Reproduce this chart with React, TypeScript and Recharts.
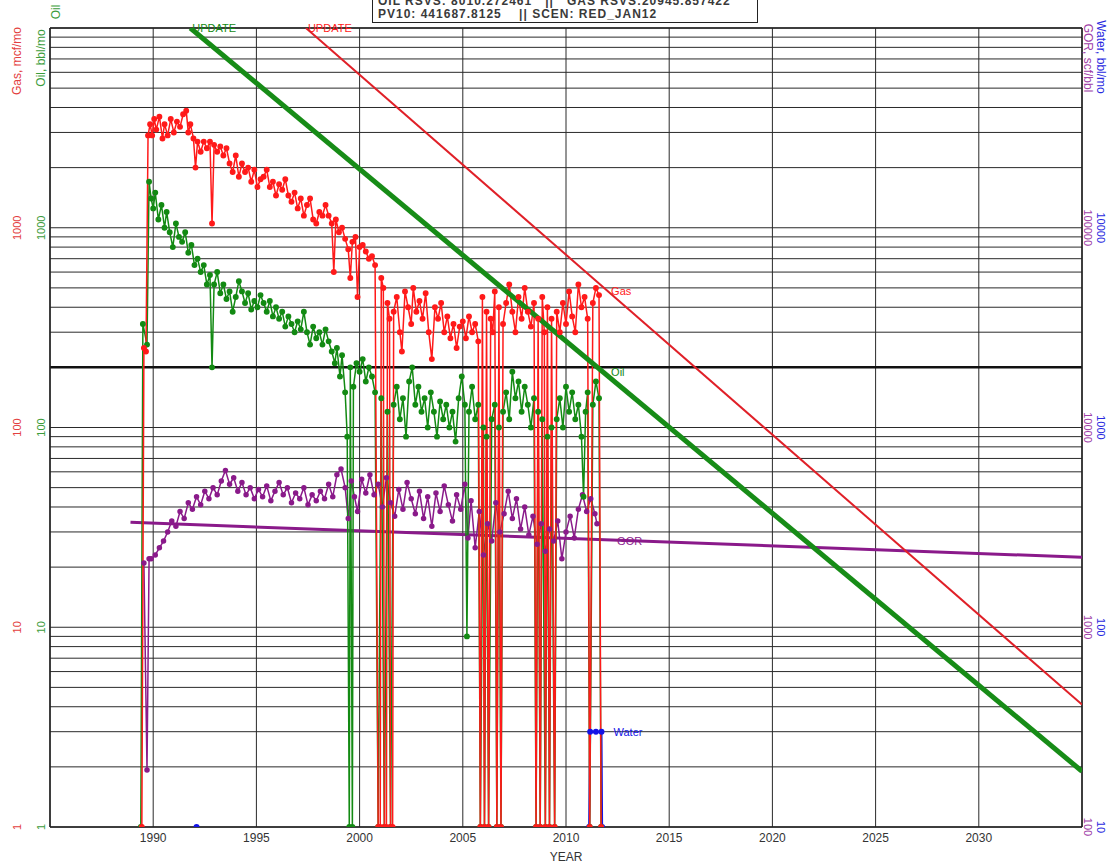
import React from 'react';
import {
    LineChart,
    Line,
    XAxis,
    YAxis,
    CartesianGrid,
    ReferenceLine,
    ReferenceDot
} from 'recharts';

type Pt = [number, number | null];

// axis ticks
const yearTicks = [1985, 1990, 1995, 2000, 2005, 2010, 2015, 2020, 2025, 2030, 2035];
const yearLabels = [1990, 1995, 2000, 2005, 2010, 2015, 2020, 2025, 2030];
const rateTicks = [
    1, 2, 3, 4, 5, 6, 7, 8, 9,
    10, 20, 30, 40, 50, 60, 70, 80, 90,
    100, 200, 300, 400, 500, 600, 700, 800, 900,
    1000, 2000, 3000, 4000, 5000, 6000, 7000, 8000, 9000,
    10000
];
const rateLabels = [1, 10, 100, 1000];
const gorTicks = [100, 1000, 10000, 100000];
const waterLabels = ['10', '100', '1000', '10000'];

// monthly history (0 months drawn at the axis floor)
const gasHistory: Pt[] = [
    [1989.45, 1], [1989.55, 250], [1989.65, 240], [1989.75, 2900], [1989.85, 3300], [1989.95, 2900],
    [1990.05, 3500], [1990.15, 3100], [1990.3, 3600], [1990.45, 2800], [1990.55, 3300], [1990.7, 2900],
    [1990.85, 3500], [1991.0, 3000], [1991.15, 3400], [1991.3, 3200], [1991.45, 3700], [1991.6, 3850],
    [1991.7, 3000], [1991.8, 3300], [1991.95, 2800], [1992.05, 2000], [1992.15, 2700], [1992.3, 2400],
    [1992.45, 2700], [1992.6, 2500], [1992.75, 2700], [1992.85, 1050], [1992.95, 2600], [1993.1, 2400],
    [1993.25, 2550], [1993.4, 2300], [1993.55, 2500], [1993.7, 2100], [1993.85, 1900], [1994.0, 2300],
    [1994.15, 1800], [1994.3, 2100], [1994.45, 1900], [1994.6, 2000], [1994.75, 1700], [1994.9, 1950],
    [1995.05, 1600], [1995.2, 1750], [1995.35, 1800], [1995.5, 1950], [1995.65, 1600], [1995.8, 1700],
    [1995.95, 1450], [1996.1, 1650], [1996.25, 1550], [1996.4, 1750], [1996.55, 1450], [1996.7, 1350],
    [1996.85, 1500], [1997.0, 1250], [1997.15, 1400], [1997.3, 1150], [1997.45, 1300], [1997.6, 1400],
    [1997.75, 1100], [1997.9, 1050], [1998.05, 1200], [1998.2, 1150], [1998.35, 1300], [1998.5, 1150],
    [1998.65, 1050], [1998.75, 600], [1998.85, 1100], [1999.0, 950], [1999.15, 1000], [1999.3, 880],
    [1999.45, 780], [1999.55, 560], [1999.65, 850], [1999.8, 900], [1999.9, 450], [2000.0, 800],
    [2000.15, 820], [2000.3, 760], [2000.45, 700], [2000.6, 720], [2000.75, 650], [2000.9, 1],
    [2001.0, 1], [2001.05, 560], [2001.15, 500], [2001.2, 1], [2001.3, 1], [2001.35, 420],
    [2001.45, 350], [2001.5, 1], [2001.6, 1], [2001.65, 380], [2001.8, 450], [2001.95, 300],
    [2002.05, 240], [2002.2, 480], [2002.35, 400], [2002.5, 330], [2002.6, 500], [2002.75, 380],
    [2002.9, 430], [2003.05, 350], [2003.2, 470], [2003.35, 300], [2003.5, 220], [2003.65, 400],
    [2003.8, 350], [2003.95, 420], [2004.1, 300], [2004.25, 360], [2004.4, 280], [2004.55, 330],
    [2004.7, 250], [2004.85, 320], [2005.0, 340], [2005.15, 280], [2005.3, 360], [2005.45, 300],
    [2005.6, 330], [2005.75, 270], [2005.85, 1], [2005.95, 450], [2006.05, 1], [2006.15, 380],
    [2006.25, 1], [2006.35, 350], [2006.45, 300], [2006.55, 480], [2006.65, 1], [2006.75, 400],
    [2006.85, 1], [2006.95, 330], [2007.1, 420], [2007.25, 520], [2007.4, 380], [2007.55, 300],
    [2007.7, 450], [2007.85, 350], [2008.0, 500], [2008.15, 380], [2008.3, 320], [2008.45, 420],
    [2008.55, 1], [2008.65, 350], [2008.75, 1], [2008.85, 450], [2008.95, 300], [2009.0, 1],
    [2009.1, 400], [2009.2, 1], [2009.3, 350], [2009.45, 1], [2009.55, 380], [2009.7, 300],
    [2009.85, 420], [2010.0, 330], [2010.15, 480], [2010.3, 360], [2010.45, 300], [2010.6, 520],
    [2010.75, 400], [2010.9, 450], [2011.05, 350], [2011.15, 1], [2011.3, 420], [2011.45, 500],
    [2011.6, 460], [2011.7, 1]
];

const oilHistory: Pt[] = [
    [1989.4, 1], [1989.5, 330], [1989.7, 260], [1989.8, 1700], [1989.9, 1400], [1990.0, 1250],
    [1990.1, 1500], [1990.25, 1100], [1990.4, 1300], [1990.55, 1000], [1990.65, 1200], [1990.8, 950],
    [1990.95, 800], [1991.1, 1050], [1991.25, 900], [1991.4, 850], [1991.55, 950], [1991.7, 750],
    [1991.85, 820], [1992.0, 650], [1992.15, 700], [1992.3, 600], [1992.45, 650], [1992.6, 520],
    [1992.75, 580], [1992.85, 200], [1992.95, 520], [1993.1, 600], [1993.25, 470], [1993.4, 520],
    [1993.55, 440], [1993.7, 480], [1993.85, 380], [1994.0, 450], [1994.15, 540], [1994.3, 480],
    [1994.45, 420], [1994.6, 470], [1994.75, 390], [1994.9, 430], [1995.05, 400], [1995.2, 460],
    [1995.35, 420], [1995.5, 380], [1995.65, 430], [1995.8, 360], [1995.95, 400], [1996.1, 350],
    [1996.25, 380], [1996.4, 320], [1996.55, 360], [1996.7, 330], [1996.85, 300], [1997.0, 340],
    [1997.15, 310], [1997.3, 380], [1997.45, 300], [1997.6, 260], [1997.75, 320], [1997.9, 280],
    [1998.05, 300], [1998.2, 260], [1998.35, 310], [1998.5, 270], [1998.65, 240], [1998.8, 210],
    [1998.9, 250], [1999.05, 180], [1999.15, 230], [1999.3, 150], [1999.4, 90], [1999.5, 1],
    [1999.55, 200], [1999.65, 1], [1999.7, 160], [1999.85, 210], [2000.0, 190], [2000.15, 220],
    [2000.3, 170], [2000.45, 200], [2000.6, 180], [2000.75, 150], [2000.9, 1], [2001.05, 140],
    [2001.2, 1], [2001.35, 120], [2001.5, 1], [2001.65, 130], [2001.8, 160], [2001.95, 110],
    [2002.1, 140], [2002.25, 90], [2002.4, 170], [2002.55, 200], [2002.7, 130], [2002.85, 160],
    [2003.0, 120], [2003.15, 140], [2003.3, 100], [2003.45, 150], [2003.6, 120], [2003.75, 90],
    [2003.9, 135], [2004.05, 110], [2004.2, 130], [2004.35, 100], [2004.5, 120], [2004.65, 85],
    [2004.8, 140], [2004.95, 180], [2005.1, 130], [2005.2, 9], [2005.3, 120], [2005.45, 160],
    [2005.6, 110], [2005.75, 130], [2005.85, 1], [2006.0, 100], [2006.05, 1], [2006.15, 90],
    [2006.25, 1], [2006.4, 110], [2006.55, 130], [2006.65, 1], [2006.75, 100], [2006.85, 1],
    [2006.95, 120], [2007.1, 150], [2007.25, 110], [2007.4, 190], [2007.55, 140], [2007.7, 170],
    [2007.85, 120], [2008.0, 160], [2008.15, 130], [2008.3, 100], [2008.45, 140], [2008.55, 1],
    [2008.65, 120], [2008.75, 1], [2008.85, 110], [2009.0, 1], [2009.1, 90], [2009.2, 1],
    [2009.3, 100], [2009.45, 1], [2009.55, 110], [2009.7, 140], [2009.85, 100], [2010.0, 160],
    [2010.15, 120], [2010.3, 150], [2010.45, 110], [2010.6, 130], [2010.75, 90], [2010.85, 45],
    [2010.95, 120], [2011.05, 150], [2011.15, 1], [2011.3, 130], [2011.45, 170], [2011.6, 140],
    [2011.7, 1]
];

const gorHistory: Pt[] = [
    [1989.55, 2100], [1989.7, 193], [1989.8, 2200], [1989.9, 2200], [1990.1, 2300], [1990.3, 2500],
    [1990.5, 2700], [1990.7, 3000], [1990.9, 3400], [1991.1, 3200], [1991.3, 3800], [1991.5, 3500],
    [1991.7, 4200], [1991.9, 3900], [1992.1, 4500], [1992.3, 4100], [1992.5, 4800], [1992.7, 4400],
    [1992.9, 5000], [1993.1, 4600], [1993.3, 5400], [1993.5, 6100], [1993.7, 5200], [1993.9, 5600],
    [1994.1, 4800], [1994.3, 5300], [1994.5, 4600], [1994.7, 5000], [1994.9, 4400], [1995.1, 4900],
    [1995.3, 4500], [1995.5, 5100], [1995.7, 4300], [1995.9, 4800], [1996.1, 5300], [1996.3, 4600],
    [1996.5, 5000], [1996.7, 4200], [1996.9, 4700], [1997.1, 4400], [1997.3, 5000], [1997.5, 4100],
    [1997.7, 4600], [1997.9, 4300], [1998.1, 4800], [1998.3, 4400], [1998.5, 5200], [1998.7, 4500],
    [1998.9, 5800], [1999.1, 6200], [1999.3, 5000], [1999.45, 3500], [1999.6, 5400], [1999.75, 4500],
    [1999.9, 3800], [2000.1, 5500], [2000.3, 4700], [2000.5, 5800], [2000.7, 4600], [2000.9, 5200],
    [2001.1, 4000], [2001.3, 5600], [2001.5, 4200], [2001.7, 3600], [2001.9, 4900], [2002.1, 3900],
    [2002.3, 5300], [2002.5, 4400], [2002.7, 3700], [2002.9, 4800], [2003.1, 3500], [2003.3, 4500],
    [2003.5, 3200], [2003.7, 4700], [2003.9, 3800], [2004.1, 5100], [2004.3, 4100], [2004.5, 3400],
    [2004.7, 4600], [2004.9, 3900], [2005.1, 5200], [2005.25, 2800], [2005.4, 4300], [2005.6, 2500],
    [2005.8, 3800], [2006.0, 2300], [2006.2, 3300], [2006.4, 2700], [2006.6, 4200], [2006.8, 3000],
    [2007.0, 3700], [2007.2, 4800], [2007.4, 3500], [2007.6, 4400], [2007.8, 3100], [2008.0, 4000],
    [2008.2, 2900], [2008.4, 3600], [2008.6, 2600], [2008.8, 3300], [2009.0, 2400], [2009.2, 3100],
    [2009.4, 2700], [2009.6, 3400], [2009.8, 2200], [2010.0, 3000], [2010.2, 3600], [2010.4, 2800],
    [2010.6, 3900], [2010.8, 4600], [2011.0, 3800], [2011.2, 4400], [2011.4, 3700], [2011.5, 3300]
];

const waterHistory: Pt[] = [
    [1992.1, 10], [2000.0, null], [2011.12, 10], [2011.17, 30], [2011.45, 30], [2011.72, 30], [2011.75, 10]
];

// UPDATE forecasts
const oilForecast: Pt[] = [[1991.8, 10000], [2035, 1.9]];
const gasForecast: Pt[] = [[1997.4, 10000], [2035, 4.1]];
const gorForecast: Pt[] = [[1988.9, 3350], [2035, 2240]];

const rows = (pts: Pt[]) => pts.map(([t, v]) => ({ t, v }));

const RED = '#ff1a1a';
const GREEN = '#138a13';
const PURPLE = '#8a1a8a';
const BLUE = '#1414e6';

const LeftTick = (props: any) => {
    const { y, payload } = props;
    if (!rateLabels.includes(payload.value)) return <g />;
    return (
        <g fontSize={11}>
            <text x={17} y={y} transform={`rotate(-90 17 ${y})`} textAnchor="middle" dominantBaseline="central" fill="#e34040">{payload.value}</text>
            <text x={41} y={y} transform={`rotate(-90 41 ${y})`} textAnchor="middle" dominantBaseline="central" fill="#3c9c3c">{payload.value}</text>
        </g>
    );
};

const RightTick = (props: any) => {
    const { y, payload } = props;
    const i = gorTicks.indexOf(payload.value);
    if (i < 0) return <g />;
    return (
        <g fontSize={11}>
            <text x={1088} y={y} transform={`rotate(90 1088 ${y})`} textAnchor="middle" dominantBaseline="central" fill="#a040a8">{payload.value}</text>
            <text x={1101} y={y} transform={`rotate(90 1101 ${y})`} textAnchor="middle" dominantBaseline="central" fill="#2a2ae0">{waterLabels[i]}</text>
        </g>
    );
};

const YearTick = (props: any) => {
    const { x, payload } = props;
    if (!yearLabels.includes(payload.value)) return <g />;
    return (
        <text x={x} y={842} textAnchor="middle" fontSize={12} fill="#333">{payload.value}</text>
    );
};

const labelStyle = (value: string, fill: string, offset: number) => ({
    value, fill, offset, position: 'right' as const, fontSize: 11
});

const App: React.FC = () => {
    return (
        <div style={{
            position: 'absolute',
            left: 0,
            top: 0,
            width: 1110,
            height: 865,
            background: 'white',
            overflow: 'hidden',
            fontFamily: '"Liberation Sans", Arial, sans-serif'
        }}>
            <LineChart width={1110} height={865} margin={{ top: 28, right: 0, bottom: 0, left: 0 }}>
                <CartesianGrid yAxisId="left" stroke="#2a2a2a" strokeWidth={1} />
                <XAxis
                    dataKey="t"
                    type="number"
                    domain={[1985, 2035]}
                    ticks={yearTicks}
                    interval={0}
                    allowDataOverflow
                    height={38}
                    axisLine={false}
                    tickLine={false}
                    tick={<YearTick />}
                    label={{ value: 'YEAR', position: 'insideBottom', offset: 4, fill: '#333', fontSize: 12 }}
                />
                <YAxis
                    yAxisId="left"
                    scale="log"
                    domain={[1, 10000]}
                    ticks={rateTicks}
                    interval={0}
                    allowDataOverflow
                    width={50}
                    axisLine={false}
                    tickLine={false}
                    tick={<LeftTick />}
                />
                <YAxis
                    yAxisId="gor"
                    orientation="right"
                    scale="log"
                    domain={[100, 1000000]}
                    ticks={gorTicks}
                    interval={0}
                    allowDataOverflow
                    width={28}
                    axisLine={false}
                    tickLine={false}
                    tick={<RightTick />}
                />
                <YAxis yAxisId="water" orientation="right" scale="log" domain={[10, 100000]} allowDataOverflow hide />

                <ReferenceLine yAxisId="left" y={200} stroke="#111" strokeWidth={2.5} />
                <ReferenceLine yAxisId="left" y={1} stroke="#222" strokeWidth={1.5} />
                <ReferenceLine yAxisId="left" y={10000} stroke="#222" strokeWidth={1.5} />
                <ReferenceLine yAxisId="left" x={1985} stroke="#222" strokeWidth={1.5} />
                <ReferenceLine yAxisId="left" x={2035} stroke="#222" strokeWidth={1.5} />

                <Line yAxisId="gor" data={rows(gorForecast)} dataKey="v" stroke={PURPLE} strokeWidth={3} dot={false} isAnimationActive={false} />
                <Line yAxisId="gor" data={rows(gorHistory)} dataKey="v" stroke={PURPLE} strokeWidth={1.5}
                    dot={{ r: 2, fill: PURPLE, stroke: PURPLE }} isAnimationActive={false} />
                <Line yAxisId="water" data={rows(waterHistory)} dataKey="v" stroke={BLUE} strokeWidth={2}
                    dot={{ r: 2, fill: BLUE, stroke: BLUE }} isAnimationActive={false} />
                <Line yAxisId="left" data={rows(oilHistory)} dataKey="v" stroke={GREEN} strokeWidth={1.5}
                    dot={{ r: 2.2, fill: GREEN, stroke: GREEN }} isAnimationActive={false} />
                <Line yAxisId="left" data={rows(gasHistory)} dataKey="v" stroke={RED} strokeWidth={1.5}
                    dot={{ r: 2.2, fill: RED, stroke: RED }} isAnimationActive={false} />
                <Line yAxisId="left" data={rows(gasForecast)} dataKey="v" stroke="#e02028" strokeWidth={2} dot={false} isAnimationActive={false} />
                <Line yAxisId="left" data={rows(oilForecast)} dataKey="v" stroke="#178c17" strokeWidth={5} dot={false} isAnimationActive={false} />

                <ReferenceDot yAxisId="left" x={1991.8} y={10000} r={0} label={labelStyle('UPDATE', GREEN, 2)} />
                <ReferenceDot yAxisId="left" x={1997.4} y={10000} r={0} label={labelStyle('UPDATE', RED, 2)} />
                <ReferenceDot yAxisId="left" x={2011.7} y={480} r={0} label={labelStyle('Gas', RED, 10)} />
                <ReferenceDot yAxisId="left" x={2011.7} y={190} r={0} label={labelStyle('Oil', GREEN, 10)} />
                <ReferenceDot yAxisId="gor" x={2011.7} y={2700} r={0} label={labelStyle('GOR', PURPLE, 16)} />
                <ReferenceDot yAxisId="water" x={2011.72} y={30} r={0} label={labelStyle('Water', BLUE, 12)} />
            </LineChart>

            <svg width={1110} height={865} style={{ position: 'absolute', left: 0, top: 0, pointerEvents: 'none' }}>
                <g fontSize={12}>
                    <text x={17} y={61} transform="rotate(-90 17 61)" textAnchor="middle" dominantBaseline="central" fill="#e34040">Gas, mcf/mo</text>
                    <text x={41} y={58} transform="rotate(-90 41 58)" textAnchor="middle" dominantBaseline="central" fill="#3c9c3c">Oil, bbl/mo</text>
                    <text x={56} y={12} transform="rotate(-90 56 12)" textAnchor="middle" dominantBaseline="central" fill="#3c9c3c">Oil</text>
                    <text x={1088} y={58} transform="rotate(90 1088 58)" textAnchor="middle" dominantBaseline="central" fill="#a040a8">GOR, scf/bbl</text>
                    <text x={1101} y={57} transform="rotate(90 1101 57)" textAnchor="middle" dominantBaseline="central" fill="#2a2ae0">Water, bbl/mo</text>
                </g>
            </svg>

            <div style={{
                position: 'absolute',
                left: 372,
                top: -9,
                width: 386,
                height: 32,
                background: 'white',
                border: '1.5px solid #222',
                fontSize: 12,
                fontWeight: 'bold',
                color: '#3a3a3a',
                lineHeight: '12.5px',
                letterSpacing: '1px',
                paddingLeft: 5,
                paddingTop: 3,
                boxSizing: 'border-box',
                whiteSpace: 'pre'
            }}>
                <div>{'OIL RSVS: 8010.272461   ||   GAS RSVS:20945.857422'}</div>
                <div>{'PV10: 441687.8125    || SCEN: RED_JAN12'}</div>
            </div>
        </div>
    );
};

export default App;
